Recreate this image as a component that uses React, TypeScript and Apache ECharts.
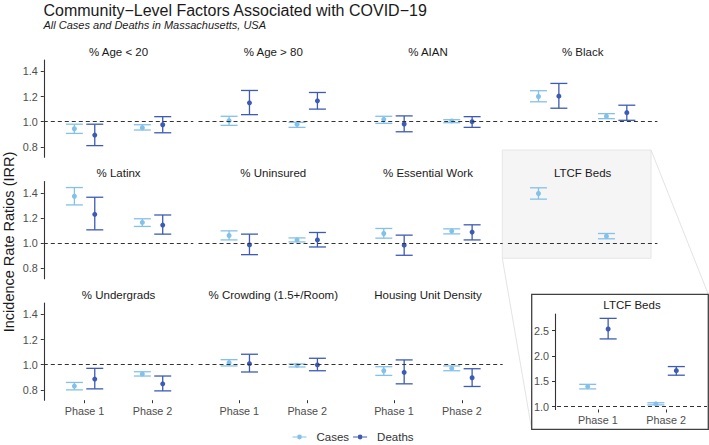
import React, { useEffect, useRef } from 'react';
import * as echarts from 'echarts';

// ---------- data ----------
const phases = ['Phase 1', 'Phase 2'];
const factors = [
  '% Age < 20', '% Age > 80', '% AIAN', '% Black',
  '% Latinx', '% Uninsured', '% Essential Work', 'LTCF Beds',
  '% Undergrads', '% Crowding (1.5+/Room)', 'Housing Unit Density',
];
// [Phase 1, Phase 2] per factor
const casesEst = [
  [0.944, 0.952], [1.008, 0.979], [1.019, 1.006], [1.2, 1.043],
  [1.373, 1.165], [1.061, 1.026], [1.077, 1.096], [1.395, 1.055],
  [0.83, 0.926], [1.016, 0.995], [0.952, 0.971],
];
const casesLow = [
  [0.907, 0.934], [0.971, 0.955], [0.987, 0.992], [1.158, 1.024],
  [1.304, 1.133], [1.026, 1.01], [1.04, 1.074], [1.35, 1.035],
  [0.8, 0.91], [0.99, 0.982], [0.915, 0.952],
];
const casesHigh = [
  [0.98, 0.976], [1.043, 0.995], [1.043, 1.016], [1.246, 1.064],
  [1.442, 1.194], [1.098, 1.042], [1.117, 1.114], [1.44, 1.077],
  [0.859, 0.944], [1.04, 1.006], [0.984, 0.99],
];
const deathsEst = [
  [0.894, 0.976], [1.15, 1.166], [0.982, 1.0], [1.203, 1.072],
  [1.229, 1.144], [0.986, 1.026], [0.984, 1.088], [2.53, 1.71],
  [0.886, 0.848], [1.008, 0.998], [0.939, 0.896],
];
const deathsLow = [
  [0.81, 0.912], [1.056, 1.1], [0.92, 0.955], [1.107, 1.011],
  [1.106, 1.072], [0.909, 0.97], [0.904, 1.026], [2.335, 1.62],
  [0.808, 0.792], [0.942, 0.952], [0.848, 0.827],
];
const deathsHigh = [
  [0.98, 1.04], [1.248, 1.232], [1.046, 1.04], [1.304, 1.131],
  [1.365, 1.224], [1.072, 1.085], [1.064, 1.146], [2.74, 1.79],
  [0.971, 0.91], [1.083, 1.051], [1.038, 0.968],
];
const mainTicks = [0.8, 1.0, 1.2, 1.4];
const insetTicks = [1.0, 1.5, 2.0, 2.5];
const insetFactor = 'LTCF Beds';

// ---------- style ----------
const CASES_COLOR = '#84c1ea';
const DEATHS_COLOR = '#3d5bb5';
const FONT = '"Liberation Sans", Arial, Helvetica, sans-serif';
const DODGE = 0.15;
const CAP = 0.125;

const renderErr = (params: any, api: any) => {
  const x = api.value(0);
  const lo = api.value(1);
  const hi = api.value(2);
  const pLo = api.coord([x, lo]);
  const pHi = api.coord([x, hi]);
  const cs = params.coordSys;
  const top = cs.y;
  const bottom = cs.y + cs.height;
  if (pHi[1] > bottom || pLo[1] < top) return null;
  const half = api.size([CAP, 0])[0];
  const style = { stroke: api.visual('color'), lineWidth: 1.3, fill: 'none' };
  const yTop = Math.max(pHi[1], top);
  const yBot = Math.min(pLo[1], bottom);
  const children: any[] = [
    { type: 'line', shape: { x1: pLo[0], y1: yBot, x2: pLo[0], y2: yTop }, style },
  ];
  if (pHi[1] >= top) children.push({ type: 'line', shape: { x1: pHi[0] - half, y1: pHi[1], x2: pHi[0] + half, y2: pHi[1] }, style });
  if (pLo[1] <= bottom) children.push({ type: 'line', shape: { x1: pLo[0] - half, y1: pLo[1], x2: pLo[0] + half, y2: pLo[1] }, style });
  return { type: 'group', children };
};

const legendIcon =
  'path://M0,2.6 L4.6,2.6 L4.6,3.4 L0,3.4 Z M9.4,2.6 L14,2.6 L14,3.4 L9.4,3.4 Z M4.6,3 A2.4,2.4 0 1 0 9.4,3 A2.4,2.4 0 1 0 4.6,3 Z';

export default function App() {
  const ref = useRef<HTMLDivElement>(null);
  useEffect(() => {
    const chart = echarts.init(ref.current!, null, { renderer: 'svg' });
    const grids: any[] = [];
    const xAxes: any[] = [];
    const yAxes: any[] = [];
    const series: any[] = [];
    const graphics: any[] = [];

    const axisLabelStyle = { color: '#4d4d4d', fontSize: 10.8, fontFamily: FONT };

    const addPanel = (
      fi: number, gi: number, box: any, showX: boolean, showY: boolean,
      ymin: number, ymax: number, yticks: number[], yOffset: number, axisZ: number,
    ) => {
      grids.push({ ...box, containLabel: false, show: false });
      xAxes.push({
        gridIndex: gi, type: 'value', min: 0.4, max: 2.6, z: axisZ,
        axisLine: { show: false },
        splitLine: { show: false },
        axisTick: { show: showX, length: 3, lineStyle: { color: '#333', width: 1 }, customValues: [1, 2] },
        axisLabel: {
          show: showX, customValues: [1, 2], margin: 5, ...axisLabelStyle,
          formatter: (v: number) => phases[Math.round(v) - 1] ?? '',
        },
      });
      yAxes.push({
        gridIndex: gi, type: 'value', min: ymin, max: ymax, offset: yOffset, z: axisZ,
        axisLine: { show: showY, lineStyle: { color: '#333', width: 1.1 } },
        splitLine: { show: false },
        axisTick: { show: showY, length: 3, lineStyle: { color: '#333', width: 1 }, customValues: yticks },
        axisLabel: {
          show: showY, customValues: yticks, margin: 6, ...axisLabelStyle,
          formatter: (v: number) => v.toFixed(1),
        },
      });
      const cx = (j: number, d: number) => j + 1 + d;
      series.push({
        type: 'scatter', name: 'Cases', xAxisIndex: gi, yAxisIndex: gi, z: 1,
        symbolSize: 5, itemStyle: { color: CASES_COLOR, opacity: 1 }, clip: true,
        data: phases.map((_, j) => [cx(j, -DODGE), casesEst[fi][j]]),
        markLine: {
          silent: true, symbol: 'none', animation: false,
          label: { show: false },
          lineStyle: { type: [4, 3], color: '#333', width: 1 },
          data: [{ yAxis: 1 }],
        },
      });
      series.push({
        type: 'custom', name: 'Cases', xAxisIndex: gi, yAxisIndex: gi, z: 2,
        itemStyle: { color: CASES_COLOR }, renderItem: renderErr,
        encode: { x: 0, y: [1, 2] },
        data: phases.map((_, j) => [cx(j, -DODGE), casesLow[fi][j], casesHigh[fi][j]]),
      });
      series.push({
        type: 'custom', name: 'Deaths', xAxisIndex: gi, yAxisIndex: gi, z: 2,
        itemStyle: { color: DEATHS_COLOR }, renderItem: renderErr,
        encode: { x: 0, y: [1, 2] },
        data: phases.map((_, j) => [cx(j, DODGE), deathsLow[fi][j], deathsHigh[fi][j]]),
      });
      series.push({
        type: 'scatter', name: 'Deaths', xAxisIndex: gi, yAxisIndex: gi, z: 3,
        symbolSize: 5, itemStyle: { color: DEATHS_COLOR, opacity: 1 }, clip: true,
        data: phases.map((_, j) => [cx(j, DODGE), deathsEst[fi][j]]),
      });
    };

    const PW = 149.5;
    const PH = 97.2;
    factors.forEach((name, i) => {
      const row = Math.floor(i / 4);
      const col = i % 4;
      const left = 43.8 + 154.7 * col;
      const top = 60 + 121.5 * row;
      addPanel(i, i, { left, top, width: PW, height: PH }, row === 2, col === 0, 0.718, 1.49, mainTicks, 0, 0);
      graphics.push({
        type: 'text', x: left + PW / 2, y: top - 8.4, z: 5,
        style: {
          text: name, fill: '#1a1a1a', fontSize: 11.5, fontFamily: FONT,
          align: 'center', verticalAlign: 'middle', textAlign: 'center', textVerticalAlign: 'middle',
        },
      });
    });

    // highlight + zoom lines + inset box
    graphics.push({
      type: 'rect', z: 0, shape: { x: 502.3, y: 150, width: 148.7, height: 108.3 },
      style: { fill: '#f5f5f5', stroke: '#e6e6e6', lineWidth: 1 },
    });
    graphics.push({
      type: 'line', z: 0.2, shape: { x1: 651, y1: 150, x2: 708.3, y2: 294.3 },
      style: { stroke: '#dcdcdc', lineWidth: 0.8 },
    });
    graphics.push({
      type: 'line', z: 0.2, shape: { x1: 502.3, y1: 258.3, x2: 531.7, y2: 429.3 },
      style: { stroke: '#dcdcdc', lineWidth: 0.8 },
    });
    graphics.push({
      type: 'rect', z: 0.4, shape: { x: 531.7, y: 294.3, width: 176.6, height: 135 },
      style: { fill: '#ffffff', stroke: '#404040', lineWidth: 1.3 },
    });
    const fi = factors.indexOf(insetFactor);
    addPanel(fi, factors.length, { left: 557, top: 314, width: 150, height: 95.5 }, true, true, 0.944, 2.826, insetTicks, 2, 3);
    graphics.push({
      type: 'text', x: 632, y: 305, z: 5,
      style: {
        text: insetFactor, fill: '#1a1a1a', fontSize: 11.5, fontFamily: FONT,
        align: 'center', verticalAlign: 'middle', textAlign: 'center', textVerticalAlign: 'middle',
      },
    });
    // y axis title
    graphics.push({
      type: 'text', x: 8.5, y: 242, rotation: Math.PI / 2, z: 5,
      style: {
        text: 'Incidence Rate Ratios (IRR)', fill: '#1a1a1a', fontSize: 14.5, fontFamily: FONT,
        align: 'center', verticalAlign: 'middle', textAlign: 'center', textVerticalAlign: 'middle',
      },
    });

    const option: any = {
      animation: false,
      backgroundColor: '#ffffff',
      title: [
        {
          text: 'Community\u2212Level Factors Associated with COVID\u221219',
          left: 43.5, top: 2.5, padding: 0,
          textStyle: { fontSize: 16, fontWeight: 'normal', color: '#1a1a1a', fontFamily: FONT },
        },
        {
          text: 'All Cases and Deaths in Massachusetts, USA',
          left: 43.5, top: 19.5, padding: 0,
          textStyle: { fontSize: 11, fontWeight: 'normal', fontStyle: 'italic', color: '#1a1a1a', fontFamily: FONT },
        },
      ],
      legend: {
        data: ['Cases', 'Deaths'], left: 292.5, top: 431, padding: 0,
        icon: legendIcon, itemWidth: 14, itemHeight: 6, itemGap: 4,
        textStyle: { fontSize: 11.5, color: '#333', fontFamily: FONT, padding: [0, 0, 0, 5] },
        selectedMode: false,
      },
      grid: grids,
      xAxis: xAxes,
      yAxis: yAxes,
      series,
      graphic: { elements: graphics },
    };
    chart.setOption(option);
    return () => chart.dispose();
  }, []);
  return <div ref={ref} style={{ position: 'fixed', left: 0, top: 0, width: 709, height: 445 }} />;
}
